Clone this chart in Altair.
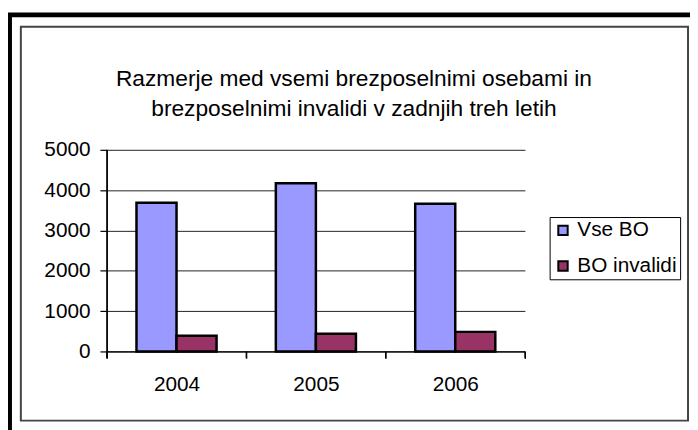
import altair as alt
import pandas as pd

years = ["2004", "2005", "2006"]
series_names = ["Vse BO", "BO invalidi"]
vse_bo = [3690, 4170, 3660]
bo_invalidi = [390, 440, 485]
series_colors = ["#9999FF", "#993366"]
y_ticks = [0, 1000, 2000, 3000, 4000, 5000]
title_line1 = "Razmerje med vsemi brezposelnimi osebami in"
title_line2 = "brezposelnimi invalidi v zadnjih treh letih"

rows = []
for i, yr in enumerate(years):
    rows.append({"year": yr, "series": series_names[0], "value": vse_bo[i]})
    rows.append({"year": yr, "series": series_names[1], "value": bo_invalidi[i]})
df = pd.DataFrame(rows)
year_df = pd.DataFrame({"year": years})

FONT = "Liberation Sans"
one = alt.Data(values=[{"k": 1}])

outer = alt.Chart(one).mark_bar(fillOpacity=0, stroke="black", strokeWidth=5).encode(
    x=alt.value(-98.5), x2=alt.value(700), y=alt.value(-136.5), y2=alt.value(400)
)
inner = alt.Chart(one).mark_bar(fillOpacity=0, stroke="#444444", strokeWidth=2).encode(
    x=alt.value(-87), x2=alt.value(588), y=alt.value(-124.5), y2=alt.value(274)
)
t1 = alt.Chart(one).mark_text(font=FONT, fontSize=23, color="black", align="center", baseline="middle").encode(
    x=alt.value(250), y=alt.value(-72), text=alt.value(title_line1)
)
t2 = alt.Chart(one).mark_text(font=FONT, fontSize=23, color="black", align="center", baseline="middle").encode(
    x=alt.value(250), y=alt.value(-41), text=alt.value(title_line2)
)

# y axis line (extends below the x axis like the reference)
y_domain = alt.Chart(one).mark_rule(color="black", strokeWidth=1.2).encode(
    x=alt.value(0), y=alt.value(0), y2=alt.value(211)
)
# x axis ticks on category boundaries
x_ticks = alt.Chart(year_df).mark_rule(color="black", strokeWidth=1.2).encode(
    x=alt.X("year:N", sort=years, bandPosition=0, title=None),
    y=alt.value(204), y2=alt.value(211),
)
x_tick_end = alt.Chart(one).mark_rule(color="black", strokeWidth=1.2).encode(
    x=alt.value(423), y=alt.value(204), y2=alt.value(211)
)

bars = alt.Chart(df).mark_bar(stroke="black", strokeWidth=2.5).encode(
    x=alt.X(
        "year:N",
        sort=years,
        title=None,
        scale=alt.Scale(paddingInner=0, paddingOuter=0),
        axis=alt.Axis(
            title=None, labelAngle=0, tickBand="extent", tickExtra=True, ticks=True,
            tickSize=7, tickWidth=1.2, tickColor="black", domain=True,
            domainColor="black", domainWidth=1.2,
            labelFont=FONT, labelFontSize=21, labelColor="black", labelPadding=16,
            grid=False,
        ),
    ),
    xOffset=alt.XOffset(
        "series:N", sort=series_names,
        scale=alt.Scale(paddingInner=0, paddingOuter=0.74),
    ),
    y=alt.Y(
        "value:Q",
        scale=alt.Scale(domain=[0, 5000], nice=False),
        axis=alt.Axis(
            title=None, values=y_ticks, format="d", grid=True, gridColor="#222222",
            gridWidth=1, tickSize=7, tickWidth=1.2, tickColor="black", domain=True,
            domainColor="black", domainWidth=1.2,
            labelFont=FONT, labelFontSize=21, labelColor="black", labelPadding=10,
        ),
    ),
    color=alt.Color(
        "series:N",
        sort=series_names,
        scale=alt.Scale(domain=series_names, range=series_colors),
        legend=alt.Legend(
            title=None, orient="none", legendX=448, legendY=68, strokeColor="black",
            padding=3, symbolType="square", symbolSize=90, symbolStrokeColor="black",
            symbolStrokeWidth=2, labelFont=FONT, labelFontSize=21, labelColor="black",
            labelOffset=4, rowPadding=14, fillColor="white",
        ),
    ),
)

chart = alt.layer(bars, x_ticks, y_domain, x_tick_end, outer, inner, t1, t2).properties(
    width=423,
    height=204,
    autosize=alt.AutoSizeParams(type="none"),
    padding={"left": 100, "top": 141, "right": 167, "bottom": 77},
    background="white",
).configure_view(strokeOpacity=0)

chart.save("out.html", embed_options={"renderer": "svg", "actions": False})
